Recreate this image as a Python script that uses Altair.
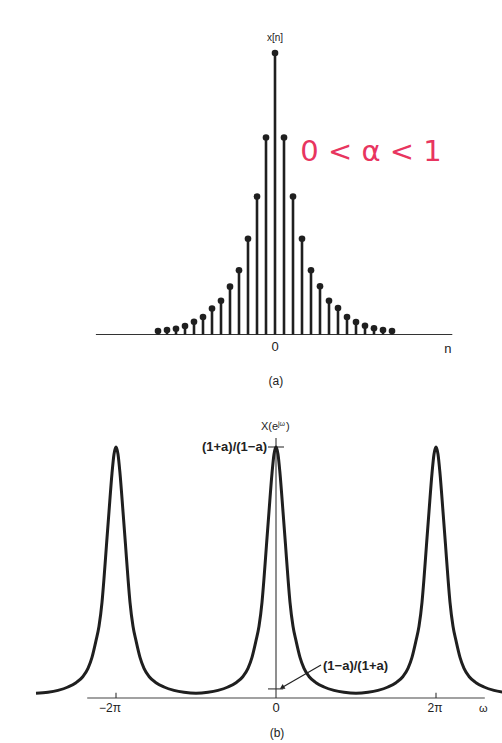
import altair as alt
import pandas as pd

# ---------------- data ----------------
# (a) x[n] = a^|n| stems
n_vals = list(range(-13, 14))
xn_vals = [0.012, 0.016, 0.020, 0.030, 0.045, 0.062, 0.092, 0.12, 0.17, 0.228, 0.34, 0.49, 0.70,
           1.0,
           0.70, 0.49, 0.34, 0.228, 0.171, 0.12, 0.094, 0.062, 0.044, 0.031, 0.022, 0.016, 0.012]

# (b) X(e^jw): peak centres (in units of pi) and the read profile of one peak
peak_centers = [-2, 0, 2]
profile_offset = [0, 0.025, 0.05, 0.0875, 0.119, 0.15, 0.175, 0.2125, 0.25, 0.30, 0.35,
                  0.4125, 0.50, 0.60, 0.725, 0.85, 1.0]
profile_value = [5.25, 5.1, 4.7, 3.9, 3.2, 2.5, 2.0, 1.5, 1.2, 0.85, 0.62,
                 0.45, 0.32, 0.23, 0.16, 0.12, 0.10]
peak_value = 5.25      # (1+a)/(1-a)
min_value = 0.19       # (1-a)/(1+a)
x_tick_pos = [-2, 2]
x_tick_labels = ["\u22122\u03c0", "2\u03c0"]

# ---------------- tables ----------------
stem_df = pd.DataFrame({"n": n_vals, "v": xn_vals})

pts = {}
for c in peak_centers:
    for s in (-1, 1):
        for d, v in zip(profile_offset, profile_value):
            w = round(c + s * d, 4)
            if -3.0 <= w <= 2.9:
                pts[w] = v
curve_df = pd.DataFrame(sorted(pts.items()), columns=["w", "X"])

INK = "#1f1f1f"
FONT = "Liberation Sans"


def XT():
    return alt.Scale(domain=[-20, 20], range=[95, 455])


def YT():
    return alt.Scale(domain=[0, 1], range=[334.5, 53])


def XB():
    return alt.Scale(domain=[-3, 3], range=[36, 516])


def YB():
    return alt.Scale(domain=[0, peak_value], range=[698, 447])


def rule(xa, xb, ya, yb, top, width=1.0, color=INK):
    sx, sy = (XT(), YT()) if top else (XB(), YB())
    df = pd.DataFrame({"x": [xa], "x2": [xb], "y": [ya], "y2": [yb]})
    return alt.Chart(df).mark_rule(color=color, strokeWidth=width).encode(
        x=alt.X("x:Q", scale=sx, axis=None), x2="x2:Q",
        y=alt.Y("y:Q", scale=sy, axis=None), y2="y2:Q")


def text(t, x, y, top, size=12, align="center", baseline="middle", dx=0, dy=0,
         color="#222222", font=FONT, weight="normal"):
    sx, sy = (XT(), YT()) if top else (XB(), YB())
    df = pd.DataFrame({"x": [x], "y": [y], "t": [t]})
    return alt.Chart(df).mark_text(
        fontSize=size, align=align, baseline=baseline, dx=dx, dy=dy,
        color=color, fill=color, font=font, fontWeight=weight).encode(
        x=alt.X("x:Q", scale=sx, axis=None),
        y=alt.Y("y:Q", scale=sy, axis=None),
        text="t:N")


layers = []

# ---------------- panel (a) ----------------
layers.append(rule(-19.9, 19.7, 0, 0, True, width=1.2, color="#333333"))
layers.append(alt.Chart(stem_df).mark_rule(color=INK, strokeWidth=2.6).encode(
    x=alt.X("n:Q", scale=XT(), axis=None),
    y=alt.Y("v:Q", scale=YT(), axis=None),
    y2=alt.datum(0)))
layers.append(alt.Chart(stem_df).mark_point(filled=True, color=INK, size=44, opacity=1).encode(
    x=alt.X("n:Q", scale=XT(), axis=None),
    y=alt.Y("v:Q", scale=YT(), axis=None)))
layers.append(text("x[n]", 0, 1.053, True, size=10))
layers.append(text("0", 0, -0.046, True, size=13))
layers.append(text("n", 19.2, -0.052, True, size=13))
layers.append(text("(a)", 0.1, -0.165, True, size=12))
layers.append(text("0 < \u03b1 < 1", 10.67, 0.616, True, size=29, baseline="alphabetic",
                   color="#e8355f", font="DejaVu Sans", weight="normal"))

# ---------------- panel (b) ----------------
layers.append(rule(-2.36, 2.61, 0, 0, False, width=1.1, color="#444444"))
layers.append(rule(0, 0, 0, 5.44, False, width=1.1, color="#333333"))
for p in x_tick_pos:
    layers.append(rule(p, p, 0, 0.11, False, width=1.1, color="#333333"))
layers.append(rule(-0.1, 0.1, peak_value, peak_value, False, width=1.1, color="#333333"))
layers.append(rule(-0.1, 0.09, min_value, min_value, False, width=1.1, color="#333333"))

layers.append(alt.Chart(curve_df).mark_line(
    color=INK, strokeWidth=3, interpolate="monotone", clip=True).encode(
    x=alt.X("w:Q", scale=XB(), axis=None),
    y=alt.Y("X:Q", scale=YB(), axis=None)))

# arrow to (1-a)/(1+a)
layers.append(rule(0.5625, 0.07, 0.69, 0.215, False, width=1.2, color="#222222"))
arrow_df = pd.DataFrame({"x": [0.075], "y": [0.22]})
layers.append(alt.Chart(arrow_df).mark_point(
    shape="triangle-up", filled=True, color="#222222", size=30, angle=240, opacity=1).encode(
    x=alt.X("x:Q", scale=XB(), axis=None),
    y=alt.Y("y:Q", scale=YB(), axis=None)))

layers.append(text("X(e", 0, 5.67, False, size=11, align="right", dx=2))
layers.append(text("j\u03c9", 0, 5.67, False, size=7, align="left", dx=2, dy=-3))
layers.append(text(")", 0, 5.67, False, size=11, align="left", dx=10))
layers.append(text("(1+a)/(1\u2212a)", 0, peak_value, False, size=13, align="right", dx=-9,
                   weight="bold"))
layers.append(text("(1\u2212a)/(1+a)", 0.5875, 0.67, False, size=13, align="left",
                   weight="bold"))
for p, lab in zip(x_tick_pos, x_tick_labels):
    layers.append(text(lab, p, -0.21, False, size=12, dx=-6 if p < 0 else -1))
layers.append(text("0", 0, -0.21, False, size=13))
layers.append(text("\u03c9", 2.59, -0.23, False, size=11))
layers.append(text("(b)", 0.0125, -0.73, False, size=12))

chart = alt.layer(*layers).resolve_scale(
    x="independent", y="independent"
).properties(
    width=502, height=743, padding=0,
    autosize=alt.AutoSizeParams(type="none"),
    background="white",
).configure_view(stroke=None)

chart.save("out.html", embed_options={"renderer": "svg", "actions": False})
